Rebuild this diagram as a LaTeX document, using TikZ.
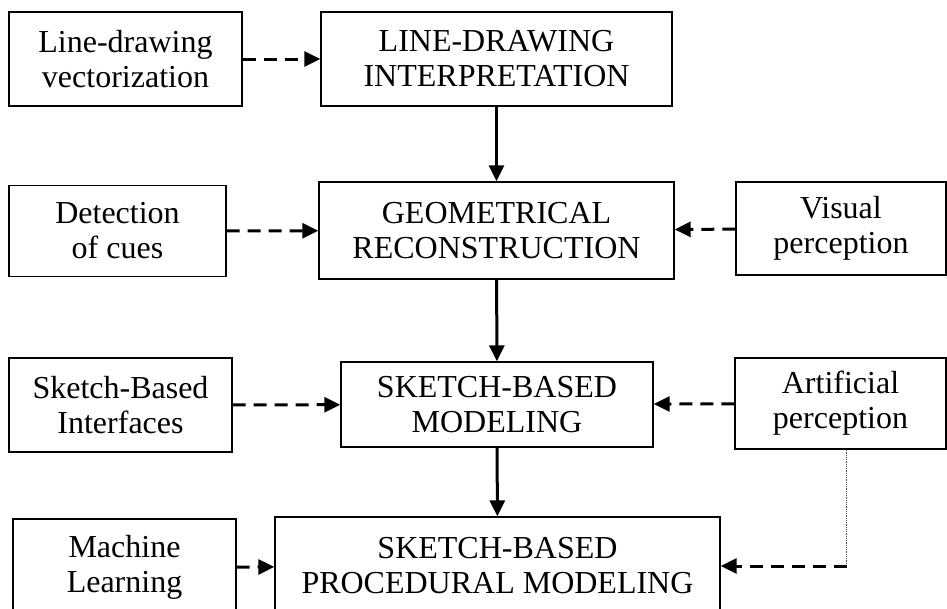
\documentclass[tikz,border=0pt]{standalone}
\usepackage{fontspec}
\setmainfont{Liberation Serif}
\usetikzlibrary{arrows.meta}
\usetikzlibrary{calc}

\begin{document}
\begin{tikzpicture}[x=1pt,y=-1pt]
    \clip (0,0) rectangle (947,608);

    \begin{scope}[every node/.style={draw,line width=1.4pt,align=center,inner sep=0pt,
            font=\fontsize{32}{35}\selectfont}]
        \node[minimum width=233pt,minimum height=94pt] (vect) at (125.5,59) {Line-drawing\\vectorization};
        \node[minimum width=351pt,minimum height=94pt] (interp) at (496.5,59) {LINE-DRAWING\\INTERPRETATION};
        \node[minimum width=217pt,minimum height=91pt] (cues) at (117.5,231) {Detection\\of cues};
        \node[minimum width=355pt,minimum height=97pt] (geom) at (496.5,230.5) {GEOMETRICAL\\RECONSTRUCTION};
        \node[minimum width=210pt,minimum height=93pt] (visual) at (841,228.5) {Visual\\perception};
        \node[minimum width=223pt,minimum height=94pt] (sbi) at (120.5,405) {Sketch-Based\\Interfaces};
        \node[minimum width=312pt,minimum height=85pt] (sbm) at (497,404.5) {SKETCH-BASED\\MODELING};
        \node[minimum width=211pt,minimum height=91pt] (artif) at (840.5,403.5) {Artificial\\perception};
        \node[minimum width=223pt,minimum height=97pt] (ml) at (124.5,567.5) {Machine\\Learning};
        \node[minimum width=445pt,minimum height=98pt] (spm) at (497.5,566) {SKETCH-BASED\\PROCEDURAL MODELING};
    \end{scope}

    \coordinate (drop) at ($(artif.south)+(6,0)$);
    \coordinate (turn) at (drop |- spm.east);
    \draw[densely dotted,line width=0.8pt,black!70] (drop) -- (turn);

    \begin{scope}[>={Triangle[length=16pt,width=15pt]},
            every edge/.style={draw,line width=3pt}]
        \path [->] (interp) edge (geom);
        \path [->] (geom) edge (sbm);
        \path [->] (sbm) edge (spm);
    \end{scope}

    \begin{scope}[>={Triangle[length=16pt,width=15pt]},
            every edge/.style={draw,line width=3pt,dash pattern=on 13pt off 8pt}]
        \path [->] (vect) edge (interp);
        \path [->] (cues) edge (geom);
        \path [->] (visual) edge (geom);
        \path [->] (sbi) edge (sbm);
        \path [->] (artif) edge (sbm);
        \path [->] (ml) edge (spm);
        \path [->] (turn) edge (spm.east);
    \end{scope}
\end{tikzpicture}
\end{document}
